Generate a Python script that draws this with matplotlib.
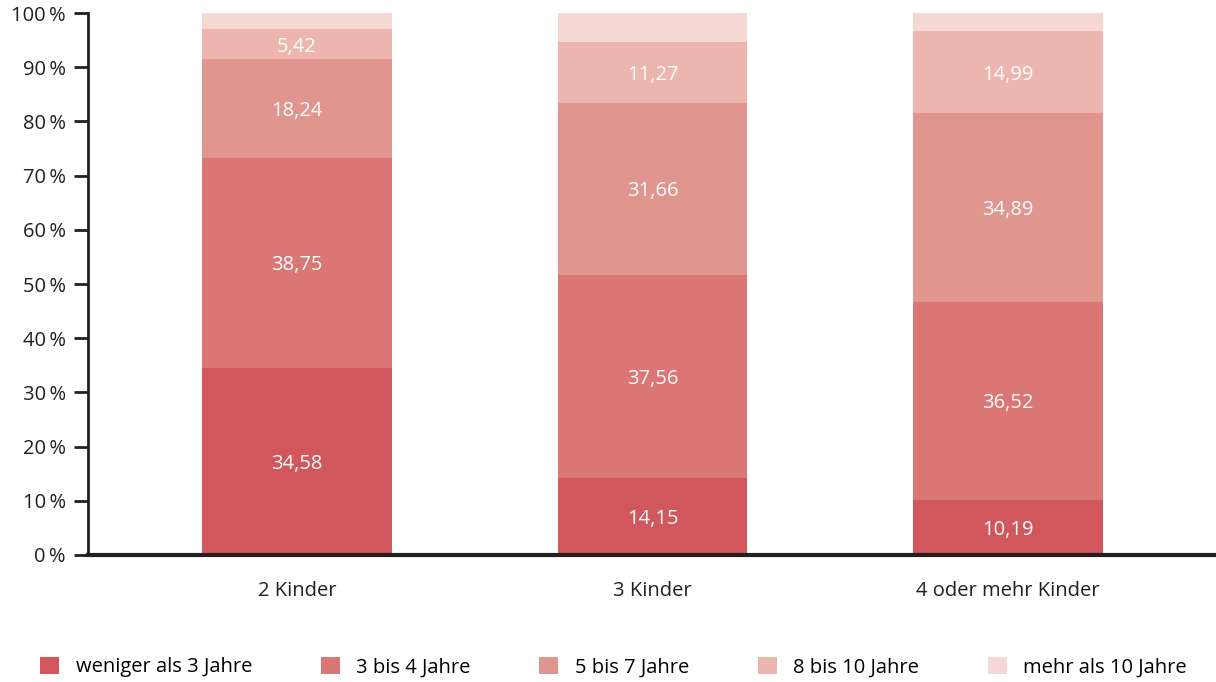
import matplotlib.pyplot as plt
import numpy as np

plt.rcParams["font.family"] = ["Open Sans", "DejaVu Sans"]

categories = ["2 Kinder", "3 Kinder", "4 oder mehr Kinder"]
series_names = ["weniger als 3 Jahre", "3 bis 4 Jahre", "5 bis 7 Jahre",
                "8 bis 10 Jahre", "mehr als 10 Jahre"]
weniger_3 = [34.58, 14.15, 10.19]
bis_4 = [38.75, 37.56, 36.52]
bis_7 = [18.24, 31.66, 34.89]
bis_10 = [5.42, 11.27, 14.99]
mehr_10 = [3.01, 5.36, 3.41]
yticks = [0, 10, 20, 30, 40, 50, 60, 70, 80, 90, 100]

colors = ["#d1575c", "#da7673", "#e1958f", "#ecb6ae", "#f5d7d3"]
dark = "#231f20"
fs = 14.5

fig = plt.figure(figsize=(12.16, 6.82), dpi=100)
ax = fig.add_axes([88 / 1216, 1 - 555 / 682, 1 - 88 / 1216, (555 - 13) / 682])

x = np.arange(len(categories))
bottom = np.zeros(len(categories))
data = [weniger_3, bis_4, bis_7, bis_10, mehr_10]
for i, (name, vals) in enumerate(zip(series_names, data)):
    vals = np.array(vals)
    ax.bar(x, vals, bottom=bottom, width=0.534, color=colors[i], label=name)
    # oberstes Segment ohne Beschriftung
    if i < 4:
        for xi, b, v in zip(x, bottom, vals):
            ax.text(xi, b + v / 2, f"{v:.2f}".replace(".", ","),
                    ha="center", va="center_baseline", color="white", fontsize=fs)
    bottom += vals

ax.set_xlim(-0.588, 2.585)
ax.set_ylim(0, 100)
ax.set_yticks(yticks)
ax.set_yticklabels([f"{t}\u2009%" for t in yticks], fontsize=fs, color=dark)
ax.set_xticks(x)
ax.set_xticklabels(categories, fontsize=fs, color=dark)
ax.tick_params(axis="x", length=0, pad=19)
ax.tick_params(axis="y", length=10, width=2, color=dark, pad=6)
for s in ["top", "right"]:
    ax.spines[s].set_visible(False)
ax.spines["left"].set_linewidth(2)
ax.spines["left"].set_color(dark)
ax.spines["bottom"].set_linewidth(3)
ax.spines["bottom"].set_color(dark)

fig.legend(loc="center", bbox_to_anchor=(0.5045, 1 - 667 / 682), ncol=5,
           frameon=False, fontsize=fs, handlelength=0.95, handleheight=0.95,
           handletextpad=0.8, columnspacing=3.42, borderaxespad=0)

fig.savefig("out.png", dpi=100)
